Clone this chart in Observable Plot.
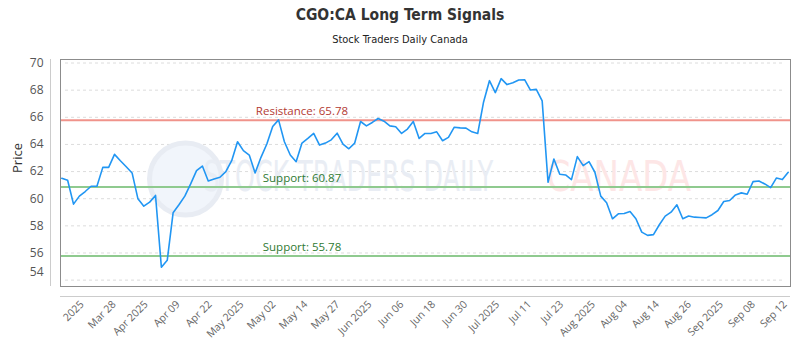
<!DOCTYPE html>
<html>
<head>
<meta charset="utf-8">
<script src="https://cdn.jsdelivr.net/npm/d3@7"></script>
<script src="https://cdn.jsdelivr.net/npm/@observablehq/plot@0.6"></script>
<style>
  body { margin: 0; background: #fff; }
  #wrap { width: 800px; height: 350px; position: relative; background: #fff; }
  #hdr { height: 50px; position: relative; }
  .t { position: absolute; left: 0; width: 800px; text-align: center; color: #333; }
  #title { top: 5px; font: bold 15.5px/20px "DejaVu Sans Condensed", "Liberation Sans Narrow", sans-serif; }
  #sub { top: 32px; font: 11px/16px "DejaVu Sans Condensed", "Liberation Sans Narrow", sans-serif; color: #222; }
</style>
</head>
<body>
<div id="wrap">
  <div id="hdr">
    <div class="t" id="title">CGO:CA Long Term Signals</div>
    <div class="t" id="sub">Stock Traders Daily Canada</div>
  </div>
  <div id="chart"></div>
</div>
<script>
// ---- data ----
const prices = [
  61.51, 61.36, 59.60, 60.19, 60.53, 60.92, 60.92, 62.31, 62.31, 63.27, 62.80, 62.36, 61.90, 59.99, 59.45, 59.75, 60.24, 54.95, 55.46, 58.96, 59.55, 60.19, 61.09, 62.07, 62.41,
  61.31, 61.46, 61.58, 62.00, 62.80, 64.20, 63.54, 63.22, 61.90, 63.05, 64.03, 65.32, 65.81, 64.20, 63.22, 62.73, 64.10, 64.44, 64.81, 63.95, 64.10, 64.34, 64.83, 64.03, 63.68,
  64.10, 65.69, 65.37, 65.62, 65.91, 65.71, 65.37, 65.30, 64.81, 65.13, 65.69, 64.44, 64.81, 64.81, 64.93, 64.27, 64.52, 65.27, 65.22, 65.20, 64.93, 64.81, 67.13, 68.70, 67.82,
  68.85, 68.41, 68.55, 68.75, 68.77, 68.01, 68.06, 67.21, 61.21, 62.93, 61.80, 61.75, 61.41, 63.10, 62.44, 62.73, 61.95, 60.19, 59.70, 58.52, 58.89, 58.91, 59.06, 58.52, 57.54,
  57.30, 57.35, 58.08, 58.72, 59.01, 59.55, 58.52, 58.72, 58.64, 58.62, 58.59, 58.82, 59.13, 59.79, 59.87, 60.28, 60.43, 60.33, 61.26, 61.31, 61.09, 60.82, 61.53, 61.41, 61.95
];
const xLabels = ["2025", "Mar 28", "Apr 2025", "Apr 09", "Apr 22", "May 2025", "May 02", "May 14", "May 27", "Jun 2025", "Jun 06", "Jun 18", "Jun 30", "Jul 2025", "Jul 11", "Jul 23", "Aug 2025", "Aug 04", "Aug 14", "Aug 26", "Sep 2025", "Sep 08", "Sep 12"];
const yTicks = [54, 56, 58, 60, 62, 64, 66, 68, 70];
const resistance = [65.78];
const supports = [60.87, 55.78];
const resistanceLabels = ["Resistance: 65.78"];
const supportLabels = ["Support: 60.87", "Support: 55.78"];
const watermarkMain = ["STOCK TRADERS DAILY"];
const watermarkRed = ["CANADA"];

// ---- layout (index units for x) ----
const xDomain = [-0.22, 124.39];
const yDomain = [53.53, 70.26];
const tickStart = 3.48, tickStep = 5.455;
const tickPos = xLabels.map((_, i) => tickStart + i * tickStep);
const tickName = new Map(tickPos.map((p, i) => [p, xLabels[i]]));
const labelX = 41;
const condensed = '"DejaVu Sans Condensed", "Liberation Sans Narrow", sans-serif';
const axisStyle = {tickSize: 0, tickPadding: 17, fontSize: 12, color: "#555", label: null};

const chart = Plot.plot({
  width: 800,
  height: 300,
  marginTop: 9,
  marginBottom: 64,
  marginLeft: 60,
  marginRight: 10,
  x: {domain: xDomain},
  y: {domain: yDomain},
  style: {fontFamily: '"Open Sans", sans-serif', background: "#fff", overflow: "visible"},
  marks: [
    Plot.gridY(yTicks, {stroke: "#dcdcdc", strokeOpacity: 1, strokeDasharray: "3,3", insetLeft: 5, insetRight: 8}),
    // watermark
    Plot.dot([0], {frameAnchor: "left", dx: 125, dy: 6, r: 36, fill: "#f1f5fb", stroke: "#e8ecf3", strokeWidth: 5}),
    Plot.text(watermarkMain, {frameAnchor: "left", dx: 143, dy: 5, textAnchor: "start", fontSize: 42, fill: "#e9edf4", fontFamily: condensed}),
    Plot.text(watermarkRed, {frameAnchor: "left", dx: 486, dy: 5, textAnchor: "start", fontSize: 42, fill: "#fde6e6", fontFamily: condensed}),
    // levels
    Plot.ruleY(resistance, {stroke: "#f0938b", strokeWidth: 2}),
    Plot.ruleY(supports, {stroke: "#8fca8f", strokeWidth: 2}),
    Plot.lineY(prices, {stroke: "#2196f3", strokeWidth: 1.6}),
    Plot.text(resistance, {x: labelX, y: d => d, text: (d, i) => resistanceLabels[i], dy: -9, fill: "#b33a33", fontSize: 11.5}),
    Plot.text(supports, {x: labelX, y: d => d, text: (d, i) => supportLabels[i], dy: -9, fill: "#2f7a32", fontSize: 11.5}),
    Plot.frame({stroke: "#8c8c8c"}),
    // axes
    Plot.axisY(yTicks.slice(1), axisStyle),
    Plot.axisY(yTicks.slice(0, 1), {...axisStyle, dy: -8}),
    Plot.axisX(tickPos, {tickSize: 0, tickPadding: 16, tickRotate: -45, fontSize: 10.5, color: "#666", label: null, tickFormat: d => tickName.get(d)}),
    Plot.ruleX([xDomain[0]], {dx: -10, stroke: "#cccccc"}),
    Plot.ruleY([yDomain[0]], {dy: 10, stroke: "#cccccc"}),
    Plot.text(["Price"], {frameAnchor: "left", dx: -43, rotate: -90, fontSize: 13, fill: "#333"})
  ]
});
// squeeze the watermark horizontally (styling only)
function squeeze(content, sx) {
  d3.select(chart).selectAll("text")
    .filter(function() { return this.textContent === content; })
    .each(function() {
      const t = this.getAttribute("transform");
      if (t) {
        this.setAttribute("transform", t + ` scale(${sx},1)`);
      } else {
        const x = +(this.getAttribute("x") || 0), y = +(this.getAttribute("y") || 0);
        this.setAttribute("x", 0);
        this.setAttribute("y", 0);
        this.setAttribute("transform", `translate(${x},${y}) scale(${sx},1)`);
      }
    });
}
squeeze(watermarkMain[0], 0.67);
squeeze(watermarkRed[0], 0.9);
document.getElementById("chart").appendChild(chart);
</script>
</body>
</html>
